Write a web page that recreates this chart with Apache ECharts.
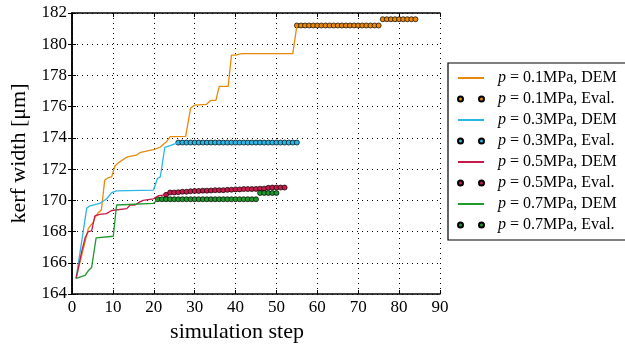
<!DOCTYPE html>
<html>
<head>
<meta charset="utf-8">
<script src="https://cdn.jsdelivr.net/npm/echarts@6/dist/echarts.min.js"></script>
<style>
  html, body { margin: 0; padding: 0; background: #fff; }
  #container { width: 625px; height: 344px; }
</style>
</head>
<body>
<div id="container"></div>
<script>
// DEM curves: [simulation step, kerf width]
var dem01 = [[1,165],[2.5,166.6],[4,168.2],[5.2,168.6],[5.6,168.9],[6.4,169.2],[7.2,169.4],[8,171.3],[8.9,171.45],[9.7,171.5],[10.5,172.2],[11.3,172.4],[13,172.7],[13.8,172.8],[15.8,172.9],[16.6,173.05],[19,173.2],[20,173.25],[21.5,173.4],[23.1,173.75],[24,174.08],[27.8,174.1],[29,175.9],[30,176.1],[32.9,176.15],[33.9,176.4],[35.2,176.4],[36,177.3],[38.2,177.3],[39,179.3],[40,179.3],[41.5,179.4],[54,179.4],[55,181.2]];
var dem03 = [[1,165],[3.6,169.5],[4.4,169.65],[6.8,169.8],[8.5,170.1],[9.7,170.5],[10.9,170.6],[19.9,170.65],[20.9,171.4],[21.6,171.5],[22.7,173.4],[24,173.5],[25,173.6],[26,173.7]];
var dem05 = [[1,165],[2.4,166.75],[3.2,167.6],[4,168],[4.8,168.05],[5.6,169],[6.8,169.1],[8.4,169.15],[9.7,169.35],[13.4,169.47],[14.2,169.7],[15.4,169.7],[16.6,169.9],[17.4,170],[19.9,170.1],[21.2,170.3],[23,170.35]];
var dem07 = [[1,165],[3.2,165.2],[4,165.5],[4.8,165.7],[5.9,167.6],[10.1,167.7],[10.9,169.7],[19.9,169.8],[21,170.07]];

// evaluated points: first step and one value per step
var evalStart01 = 55;
var eval01 = [181.2,181.2,181.2,181.2,181.2,181.2,181.2,181.2,181.2,181.2,181.2,181.2,181.2,181.2,181.2,181.2,181.2,181.2,181.2,181.2,181.2,
              181.6,181.6,181.6,181.6,181.6,181.6,181.6,181.6,181.6];
var evalStart03 = 26;
var eval03 = [173.7,173.7,173.7,173.7,173.7,173.7,173.7,173.7,173.7,173.7,173.7,173.7,173.7,173.7,173.7,
              173.7,173.7,173.7,173.7,173.7,173.7,173.7,173.7,173.7,173.7,173.7,173.7,173.7,173.7,173.7];
var evalStart05 = 23;
var eval05 = [170.35,170.5,170.5,170.52,170.55,170.55,170.58,170.6,170.6,170.62,170.62,170.63,170.65,170.65,170.65,
              170.67,170.68,170.7,170.7,170.72,170.72,170.72,170.73,170.75,170.75,170.8,170.82,170.82,170.82,170.82];
var evalStart07 = 21;
var eval07 = [170.07,170.07,170.07,170.07,170.07,170.07,170.07,170.07,170.07,170.07,170.07,170.07,170.07,170.07,170.07,
              170.07,170.07,170.07,170.07,170.07,170.07,170.07,170.07,170.07,170.07,
              170.47,170.47,170.47,170.47,170.47];

var pressures = ['0.1', '0.3', '0.5', '0.7'];
var colors = ['#e8890c', '#2cb6e6', '#c81a4a', '#1f982c'];
var demData = [dem01, dem03, dem05, dem07];
var evalData = [eval01, eval03, eval05, eval07];
var evalStarts = [evalStart01, evalStart03, evalStart05, evalStart07];

var serif = '"Liberation Serif", "DejaVu Serif", serif';
var twoDots = 'path://M0,2.5a2.5,2.5 0 1,0 5,0a2.5,2.5 0 1,0 -5,0M21,2.5a2.5,2.5 0 1,0 5,0a2.5,2.5 0 1,0 -5,0';

function toPairs(start, vals) {
    var out = [];
    for (var i = 0; i < vals.length; i++) out.push([start + i, vals[i]]);
    return out;
}

var series = [];
var legendData = [];
for (var k = 0; k < pressures.length; k++) {
    var nDem = 'p = ' + pressures[k] + 'MPa, DEM';
    var nEval = 'p = ' + pressures[k] + 'MPa, Eval.';
    series.push({
        name: nDem, type: 'line', data: demData[k], symbol: 'none',
        lineStyle: { color: colors[k], width: 1.3 }, itemStyle: { color: colors[k] },
        animation: false
    });
    series.push({
        name: nEval, type: 'scatter', data: toPairs(evalStarts[k], evalData[k]),
        symbol: 'circle', symbolSize: 5,
        itemStyle: { color: colors[k], borderColor: '#000', borderWidth: 0.7, opacity: 1 },
        animation: false
    });
    legendData.push({ name: nDem, itemStyle: { opacity: 0 } });
    legendData.push({ name: nEval, icon: twoDots });
}

var dom = document.getElementById('container');
var myChart = echarts.init(dom);
var option = {
    backgroundColor: '#fff',
    grid: { left: 72, right: 185, top: 13, bottom: 50, outerBoundsMode: 'none', containLabel: false },
    // legend frame, running off the right edge like the original
    graphic: [{
        type: 'rect', z: 0,
        shape: { x: 448, y: 63, width: 220, height: 177 },
        style: { fill: '#fff', stroke: '#000', lineWidth: 1.2 }
    }],
    legend: {
        orient: 'vertical', left: 448, top: 63,
        data: legendData,
        itemWidth: 26, itemHeight: 5, itemGap: 5,
        padding: [7, 10, 7, 9],
        selectedMode: false,
        z: 5,
        formatter: function (name) {
            return '{i|p}' + name.slice(1);
        },
        textStyle: {
            fontFamily: serif, fontSize: 16, color: '#000', lineHeight: 16,
            padding: [0, 0, 0, 9],
            rich: { i: { fontFamily: serif, fontStyle: 'italic', fontSize: 16, lineHeight: 16 } }
        }
    },
    xAxis: [{
        type: 'value', min: 0, max: 90, interval: 10,
        name: 'simulation step', nameLocation: 'middle', nameGap: 19,
        nameTextStyle: { fontFamily: serif, fontSize: 22, color: '#000', padding: [0, 38, 0, 0] },
        axisLine: { lineStyle: { color: '#000', width: 1.5 } },
        axisTick: { inside: true, length: 4, lineStyle: { color: '#000', width: 1 } },
        axisLabel: { fontFamily: serif, fontSize: 17, color: '#000', margin: 5 },
        splitLine: { lineStyle: { color: '#000', type: [1, 4], width: 1 } }
    }, {
        type: 'value', min: 0, max: 90, interval: 10, position: 'top',
        axisLine: { lineStyle: { color: '#000', width: 1.5 } },
        axisTick: { inside: true, length: 4, lineStyle: { color: '#000', width: 1 } },
        axisLabel: { show: false }, splitLine: { show: false }
    }],
    yAxis: [{
        type: 'value', min: 164, max: 182, interval: 2,
        name: 'kerf width [μm]', nameLocation: 'middle', nameGap: 39,
        nameTextStyle: { fontFamily: serif, fontSize: 22, color: '#000' },
        axisLine: { show: true, lineStyle: { color: '#000', width: 1.5 } },
        axisTick: { show: true, inside: true, length: 4, lineStyle: { color: '#000', width: 1 } },
        axisLabel: { fontFamily: serif, fontSize: 17, color: '#000', margin: 5 },
        splitLine: { lineStyle: { color: '#000', type: [1, 4], width: 1 } }
    }, {
        type: 'value', min: 164, max: 182, interval: 2, position: 'right',
        axisLine: { show: true, lineStyle: { color: '#000', width: 1.5 } },
        axisTick: { show: true, inside: true, length: 4, lineStyle: { color: '#000', width: 1 } },
        axisLabel: { show: false }, splitLine: { show: false }
    }],
    series: series
};
myChart.setOption(option);
</script>
</body>
</html>
